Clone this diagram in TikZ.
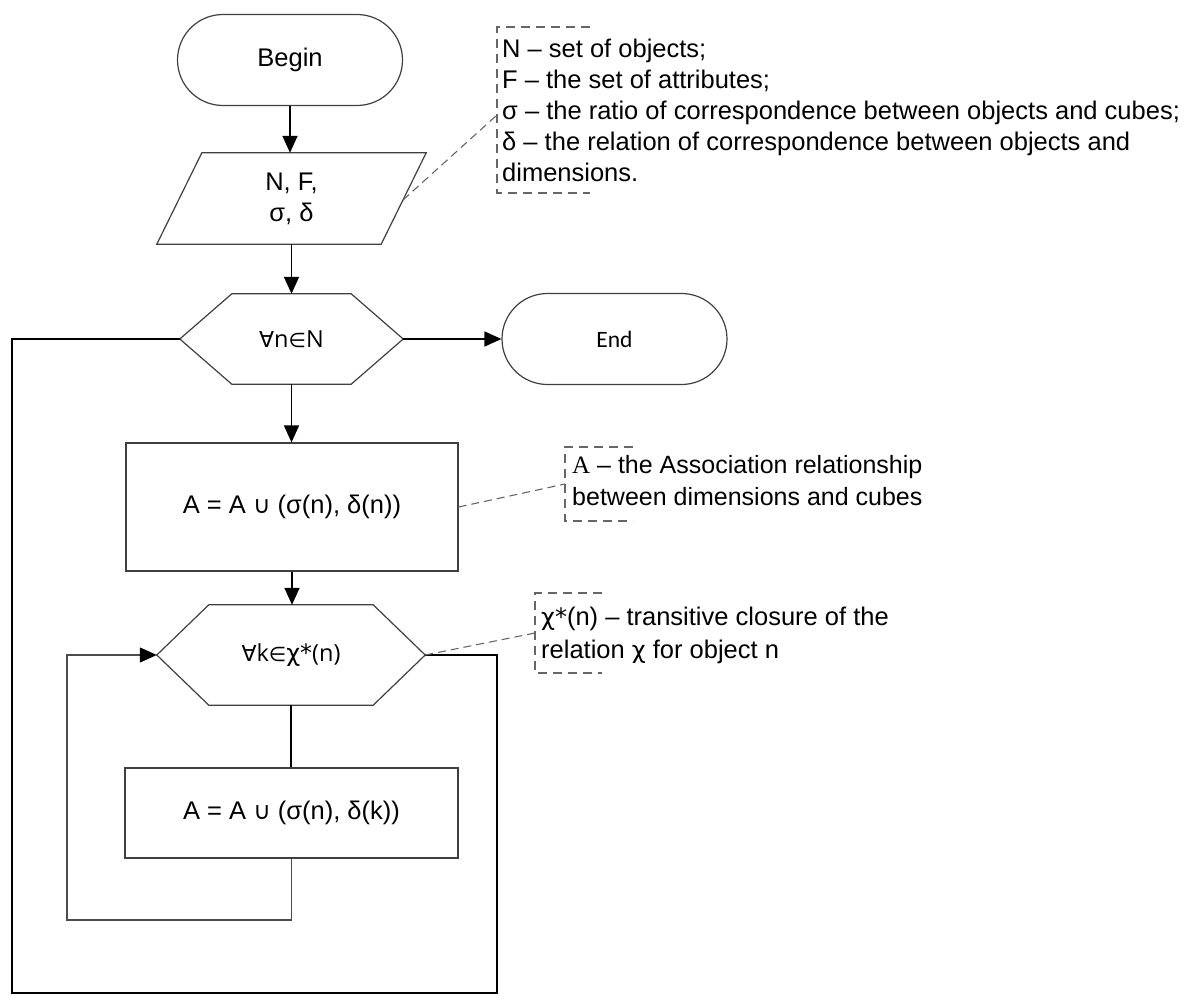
\documentclass[tikz,border=0pt]{standalone}
\usepackage{fontspec}
\setmainfont{Liberation Sans}
\newfontfamily\dejavu{DejaVu Sans}
\newfontfamily\carl{Carlito}
\newfontfamily\osans{Open Sans}
\newfontfamily\serifA{Liberation Serif}
\usetikzlibrary{arrows.meta,shapes.misc,calc}
\begin{document}
\begin{tikzpicture}[x=1pt,y=-1pt,
  shapeline/.style={draw=black!75, line width=1.2pt},
  term/.style={shapeline, rounded rectangle, minimum width=225pt, minimum height=91pt, inner sep=0pt},
  boxnode/.style={shapeline, rectangle, inner sep=0pt, align=center},
  ghost/.style={rectangle, inner sep=0pt, align=center},
  tip/.style={-{Triangle[length=17pt,width=15pt,color=black,fill=black]}},
  flow/.style={draw=black, line width=1.6pt, tip},
  plainflow/.style={draw=black, line width=1.6pt},
  thinflow/.style={draw=black!70, line width=1.2pt},
  lead/.style={draw=black!60, line width=1.1pt, dash pattern=on 8pt off 5pt},
  bracket/.style={draw=black!60, line width=1.4pt, dash pattern=on 9pt off 6pt},
  txt/.style={font=\fontsize{25.5}{31}\selectfont},
  hexfont/.style={font=\osans\fontsize{23.5}{28}\selectfont},
]
\useasboundingbox[fill=white] (0,0) rectangle (1192,1001);

% main nodes
\node[term, txt] (begin) at (290,60) {Begin};
\node[ghost, txt, minimum width=269pt, minimum height=91pt] (para) at (291.5,198.5) {N, F,\\σ, δ};
\draw[shapeline] ($(para.north west)+(45,0)$) -- (para.north east) -- ($(para.south east)+(-45,0)$) -- (para.south west) -- cycle;

\node[ghost, hexfont, minimum width=223pt, minimum height=90pt] (h1) at (291.5,339) {{\dejavu\fontsize{22}{26}\selectfont ∀}n{\dejavu\fontsize{20}{26}\selectfont ∈}N};
\draw[shapeline] (h1.west) -- ($(h1.north west)+(52,0)$) -- ($(h1.north east)+(-52,0)$) -- (h1.east) -- ($(h1.south east)+(-52,0)$) -- ($(h1.south west)+(52,0)$) -- cycle;

\node[term, font=\carl\fontsize{23.5}{28}\selectfont] (end) at (614.5,339) {End};

\node[boxnode, txt, minimum width=332pt, minimum height=128pt] (b1) at (292,507) {A = A {\dejavu\fontsize{24}{28}\selectfont ∪} (σ(n), δ(n))};

\node[ghost, hexfont, minimum width=268pt, minimum height=100pt] (h2) at (291,655) {{\dejavu\fontsize{22}{26}\selectfont ∀}k{\dejavu\fontsize{20}{26}\selectfont ∈}{\dejavu\fontsize{24}{26}\selectfont χ*}(n)};
\draw[shapeline] (h2.west) -- ($(h2.north west)+(52,0)$) -- ($(h2.north east)+(-52,0)$) -- (h2.east) -- ($(h2.south east)+(-52,0)$) -- ($(h2.south west)+(52,0)$) -- cycle;

\node[boxnode, txt, minimum width=333pt, minimum height=90pt] (b2) at (291.5,813) {A = A {\dejavu\fontsize{24}{28}\selectfont ∪} (σ(n), δ(k))};

% connectors
\draw[flow] (begin.south) -- (begin.south |- para.north);
\draw[flow] (para.south) -- (para.south |- h1.north);
\draw[flow] (h1.east) -- (end.west);
\draw[flow] (h1.south) -- (h1.south |- b1.north);
\draw[flow] (b1.south) -- (b1.south |- h2.north);
\draw[plainflow] (h2.south) -- (h2.south |- b2.north);

\coordinate (il) at (67,920);
\draw[thinflow, tip] (b2.south) |- (il) |- (h2.west);

\coordinate (ol1) at (497,993);
\coordinate (ol2) at (12,993);
\draw[plainflow] (h2.east) -| (ol1) -- (ol2) |- (h1.west);

% annotations
\node[anchor=north west, inner sep=0pt, align=left, txt] (n1) at (502,38.4)
  {N – set of objects;\\F – the set of attributes;\\σ – the ratio of correspondence between objects and cubes;\\δ – the relation of correspondence between objects and\\dimensions.};
\draw[bracket] (590,27) -- (497,27) -- (497,193) -- (590,193);
\coordinate (p1) at (403,200);
\coordinate (a1) at (497,115);
\draw[lead] (p1) -- (a1);

\node[anchor=north west, inner sep=0pt, align=left, font=\fontsize{25}{32}\selectfont] (n2) at (572,455)
  {{\serifA A} – the Association relationship\\between dimensions and cubes};
\draw[bracket] (633,447) -- (565,447) -- (565,521) -- (633,521);
\coordinate (a2) at (565,484);
\draw[lead] (b1.east) -- (a2);

\node[anchor=north west, inner sep=0pt, align=left, font=\fontsize{25.5}{33}\selectfont] (n3) at (541,606.4)
  {{\dejavu\fontsize{24}{33}\selectfont χ*}(n) – transitive closure of the\\relation {\dejavu\fontsize{24}{33}\selectfont χ} for object n};
\draw[bracket] (602,593) -- (535,593) -- (535,673) -- (602,673);
\coordinate (a3) at (535,633);
\draw[lead] (h2.east) -- (a3);
\end{tikzpicture}
\end{document}
